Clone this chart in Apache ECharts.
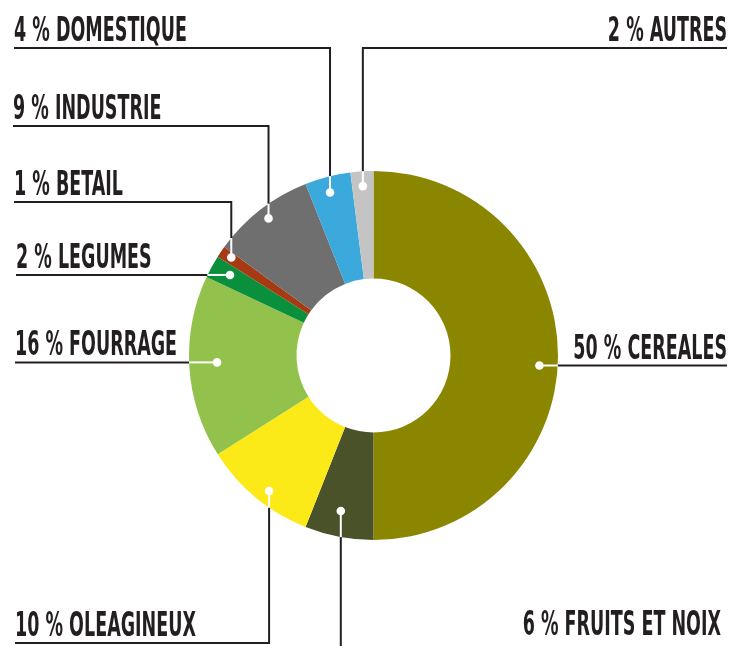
<!DOCTYPE html>
<html>
<head>
<meta charset="utf-8">
<script src="https://cdn.jsdelivr.net/npm/echarts@6/dist/echarts.min.js"></script>
<style>
  html, body { margin: 0; padding: 0; background: #fff; }
  #main { width: 733px; height: 646px; }
</style>
</head>
<body>
<div id="main"></div>
<script>
// parts du total, dans le sens des aiguilles à partir de midi
var names = ['CEREALES', 'FRUITS ET NOIX', 'OLEAGINEUX', 'FOURRAGE', 'LEGUMES', 'BETAIL', 'INDUSTRIE', 'DOMESTIQUE', 'AUTRES'];
var shares = [50, 6, 10, 16, 2, 1, 9, 4, 2];
var colors = ['#8a8600', '#4a5229', '#fce918', '#92c24b', '#0a8f3c', '#a63a13', '#6f6f6f', '#3ba9dc', '#c4c4c4'];

// mise en page des étiquettes : rayon du point (en % du rayon ext.), petit décalage d'angle,
// sens du trait, hauteur du soulignement, extrémité du texte
var leaders = [
    { dotR: 90.1, turn: 0.96, dir: 'h', endX: 727, align: 'right' },
    { dotR: 86.1, turn: 0.3, dir: 'v', lineY: 660, labelY: 642, endX: 721, align: 'right' },
    { dotR: 92.7, turn: -0.55, dir: 'v', lineY: 643, endX: 15, align: 'left' },
    { dotR: 84.9, turn: 0.3, dir: 'h', endX: 15, align: 'left' },
    { dotR: 89.2, turn: 0.14, dir: 'h', endX: 16, align: 'left' },
    { dotR: 93.6, turn: 0.1, dir: 'v', lineY: 202, endX: 14, align: 'left' },
    { dotR: 93.6, turn: 0.1, dir: 'v', lineY: 126, endX: 13, align: 'left' },
    { dotR: 91.4, turn: -0.15, dir: 'v', lineY: 48, endX: 14, align: 'left' },
    { dotR: 92, turn: 0, dir: 'v', lineY: 48, endX: 727, align: 'right' }
];

var mids = [];
var acc = 0;
for (var i = 0; i < shares.length; i++) {
    mids.push(acc + shares[i] / 2);
    acc += shares[i];
}

var CENTER = [373.5, 355.5];
var OUTER = 184.5;
var INK = '#231f20';
var FONT = '"DejaVu Sans Condensed", "Liberation Sans Narrow", sans-serif';

var myChart = echarts.init(document.getElementById('main'), null, { renderer: 'canvas' });

myChart.setOption({
    animation: false,
    backgroundColor: '#fff',
    polar: { center: CENTER, radius: OUTER },
    angleAxis: { type: 'value', min: 0, max: 100, startAngle: 90, clockwise: true, show: false },
    radiusAxis: { type: 'value', min: 0, max: 100, show: false },
    series: [
        {
            type: 'pie',
            center: CENTER,
            radius: [77, OUTER],
            startAngle: 90,
            clockwise: true,
            silent: true,
            label: { show: false },
            labelLine: { show: false },
            itemStyle: { borderWidth: 0 },
            data: names.map(function (n, k) {
                return { name: n, value: shares[k], itemStyle: { color: colors[k] } };
            })
        },
        {
            type: 'custom',
            coordinateSystem: 'polar',
            silent: true,
            z: 5,
            data: mids.map(function (m, k) {
                return [leaders[k].dotR, m + (leaders[k].turn || 0)];
            }),
            renderItem: function (params, api) {
                var k = params.dataIndex;
                var L = leaders[k];
                var dot = api.coord([api.value(0), api.value(1)]);
                var c = api.coord([0, 0]);
                var top = api.coord([100, 0]);
                var R = Math.sqrt(Math.pow(top[0] - c[0], 2) + Math.pow(top[1] - c[1], 2));
                var edge, dark, textPos;
                if (L.dir === 'h') {
                    var y = dot[1];
                    var dx = Math.sqrt(R * R - Math.pow(y - c[1], 2));
                    edge = [dot[0] < c[0] ? c[0] - dx : c[0] + dx, y];
                    dark = [edge, [L.endX, y]];
                    textPos = [L.endX, y + 1];
                } else {
                    var x = dot[0];
                    var dy = Math.sqrt(R * R - Math.pow(x - c[0], 2));
                    edge = [x, L.lineY < c[1] ? c[1] - dy : c[1] + dy];
                    dark = [edge, [x, L.lineY], [L.endX, L.lineY]];
                    textPos = [L.endX, (L.labelY || L.lineY) + 1];
                }
                return {
                    type: 'group',
                    children: [
                        {
                            type: 'polyline',
                            shape: { points: dark },
                            style: { stroke: INK, lineWidth: 2, fill: null }
                        },
                        {
                            type: 'line',
                            shape: { x1: dot[0], y1: dot[1], x2: edge[0], y2: edge[1] },
                            style: { stroke: '#fff', lineWidth: 2 }
                        },
                        {
                            type: 'circle',
                            shape: { cx: dot[0], cy: dot[1], r: 4.3 },
                            style: { fill: '#fff' }
                        },
                        {
                            type: 'text',
                            x: textPos[0],
                            y: textPos[1],
                            scaleX: 0.59,
                            style: {
                                text: shares[k] + ' % ' + names[k],
                                fill: INK,
                                fontSize: 33,
                                fontWeight: 'bold',
                                fontFamily: FONT,
                                align: L.align,
                                verticalAlign: 'bottom'
                            }
                        }
                    ]
                };
            }
        }
    ]
});
</script>
</body>
</html>
